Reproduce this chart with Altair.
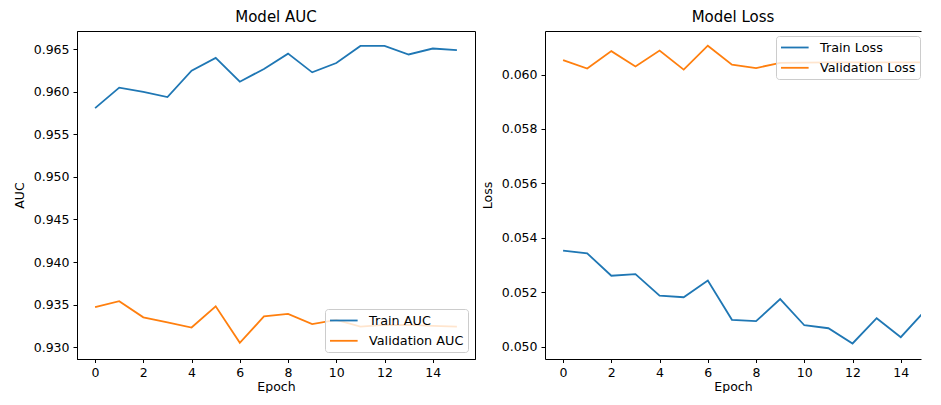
import altair as alt
import pandas as pd

# ---- data ----
epochs = list(range(16))
train_auc = [0.9581, 0.9605, 0.9600, 0.9594, 0.9625, 0.9640, 0.9612, 0.9627,
             0.9645, 0.9623, 0.9634, 0.9654, 0.9654, 0.9644, 0.9651, 0.9649]
val_auc = [0.9347, 0.9354, 0.9335, 0.9329, 0.9323, 0.9348, 0.9305, 0.9336,
           0.9339, 0.9327, 0.9332, 0.9324, 0.9326, 0.9326, 0.9325, 0.9324]
train_loss = [0.05353, 0.05343, 0.05261, 0.05267, 0.05188, 0.05182, 0.05243, 0.05099,
              0.05094, 0.05175, 0.05079, 0.05068, 0.05012, 0.05105, 0.05035, 0.05132]
val_loss = [0.06053, 0.06022, 0.06086, 0.06030, 0.06088, 0.06018, 0.06106, 0.06036,
            0.06024, 0.06043, 0.06044, 0.06045, 0.06045, 0.06045, 0.06045, 0.06045]

auc_series = ["Train AUC", "Validation AUC"]
loss_series = ["Train Loss", "Validation Loss"]
colors = ["#1f77b4", "#ff7f0e"]

x_ticks = [0, 2, 4, 6, 8, 10, 12, 14]
auc_ticks = [0.930, 0.935, 0.940, 0.945, 0.950, 0.955, 0.960, 0.965]
loss_ticks = [0.050, 0.052, 0.054, 0.056, 0.058, 0.060]

auc_df = pd.DataFrame({
    "Epoch": epochs + epochs,
    "value": train_auc + val_auc,
    "series": [auc_series[0]] * 16 + [auc_series[1]] * 16,
})
loss_df = pd.DataFrame({
    "Epoch": epochs + epochs,
    "value": train_loss + val_loss,
    "series": [loss_series[0]] * 16 + [loss_series[1]] * 16,
})

FONT = "DejaVu Sans"
H = 328
LEFT_W = 398
RIGHT_W = 376          # the right panel is cut at the picture edge, as in the reference
PX_PER_EPOCH = LEFT_W / 16.5
right_xmax = -0.75 + RIGHT_W / PX_PER_EPOCH


def legend_style(**kw):
    return alt.Legend(
        title=None, direction="vertical",
        fillColor="rgba(255,255,255,0.8)", strokeColor="#cccccc", cornerRadius=3,
        padding=4, rowPadding=5.3, symbolType="M-1,0H3.25", symbolSize=169,
        symbolStrokeWidth=1.8, labelFontSize=12.8, labelOffset=25,
        labelColor="black", labelFont=FONT, **kw,
    )


# ---- left panel ----
left = alt.Chart(auc_df).mark_line(strokeWidth=1.8).encode(
    x=alt.X("Epoch:Q",
            scale=alt.Scale(domain=[-0.75, 15.75], nice=False, zero=False),
            axis=alt.Axis(values=x_ticks, format="d", title="Epoch")),
    y=alt.Y("value:Q",
            scale=alt.Scale(domain=[0.92860, 0.96716], nice=False, zero=False),
            axis=alt.Axis(values=auc_ticks, format=".3f", title="AUC")),
    color=alt.Color("series:N",
                    scale=alt.Scale(domain=auc_series, range=colors),
                    legend=legend_style(orient="bottom-right", offset=7)),
).properties(width=LEFT_W, height=H, title="Model AUC")

# ---- right panel ----
rx = alt.Scale(domain=[-0.75, right_xmax], nice=False, zero=False)
ry = alt.Scale(domain=[0.04955, 0.06160], nice=False, zero=False)

right_line = alt.Chart(loss_df).mark_line(strokeWidth=1.8, clip=True).encode(
    x=alt.X("Epoch:Q", scale=rx,
            axis=alt.Axis(values=x_ticks, format="d", title="Epoch")),
    y=alt.Y("value:Q", scale=ry,
            axis=alt.Axis(values=loss_ticks, format=".3f", title="Loss")),
    color=alt.Color("series:N",
                    scale=alt.Scale(domain=loss_series, range=colors),
                    legend=legend_style(orient="none", legendX=231, legendY=5)),
)
right_top = alt.Chart(loss_df).mark_line(opacity=0, clip=True).encode(
    x=alt.X("Epoch:Q", scale=rx,
            axis=alt.Axis(orient="top", labels=False, ticks=False, title=None, domain=True)),
    y=alt.Y("value:Q", scale=ry, axis=None),
)
right = alt.layer(right_line, right_top).resolve_axis(
    x="independent", y="independent"
).properties(
    width=RIGHT_W, height=H, title="Model Loss",
    view=alt.ViewBackground(stroke="transparent"),
)

chart = alt.hconcat(left, right, spacing=4).resolve_scale(
    color="independent", x="independent", y="independent"
).properties(
    padding={"left": 4, "top": 1, "right": 0, "bottom": 0}
).configure_view(
    stroke="black", strokeWidth=1
).configure_axis(
    grid=False, domainColor="black", domainWidth=1, tickColor="black", tickWidth=1,
    tickSize=4, labelPadding=4, labelFontSize=12.5, titleFontSize=12.5,
    titleFontWeight="normal", labelColor="black", titleColor="black",
    labelFont=FONT, titleFont=FONT, labelFlush=False,
).configure_axisY(
    titlePadding=7
).configure_axisX(
    titlePadding=1.5, tickSize=3.5, labelPadding=3.5
).configure_title(
    fontSize=15, fontWeight="normal", font=FONT, color="black", offset=6, anchor="middle"
)

chart.save("out.html", embed_options={"renderer": "svg", "actions": False})
